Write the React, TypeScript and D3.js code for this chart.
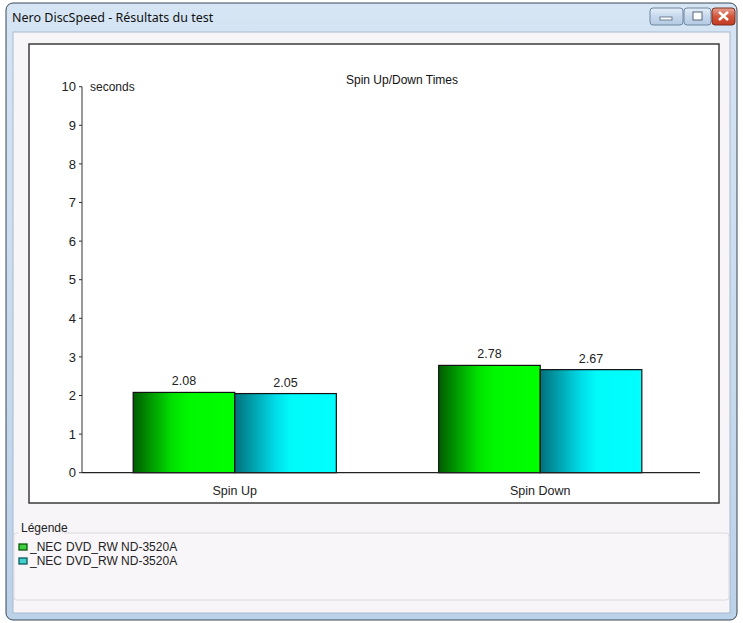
import { scaleBand, scaleLinear, range, format } from "d3";

// Spin up / spin down times, seconds
const categories = ["Spin Up", "Spin Down"];
const seriesNames = ["_NEC", "_NEC"];
const seriesModels = ["DVD_RW ND-3520A", "DVD_RW ND-3520A"];
const driveA = [2.08, 2.78];
const driveB = [2.05, 2.67];
const yTicks = range(0, 11);

const series = [driveA, driveB];
const seriesIds = ["gGreen", "gCyan"];
const legendFill = ["#3fcf3f", "#44d0d0"];
const legendStroke = ["#0a5a0a", "#0a5a5a"];

const W = 743;
const H = 623;
const ui = "'Liberation Sans', Arial, sans-serif";

export default function App() {
  const yScale = scaleLinear().domain([0, 10]).range([472.7, 86.7]);
  const xScale = scaleBand<string>()
    .domain(categories)
    .range([82, 693])
    .paddingInner(0.335)
    .paddingOuter(0.1675);
  const sub = scaleBand<number>()
    .domain(series.map((_, i) => i))
    .range([0, xScale.bandwidth()]);
  const fmt = format(".2f");

  return (
    <div style={{ position: "absolute", left: 0, top: 0, width: W, height: H, background: "#fff" }}>
      <svg width={W} height={H} style={{ display: "block" }}>
        <defs>
          <linearGradient id="gGreen" x1="0" x2="1" y1="0" y2="0">
            <stop offset="0%" stopColor="#005c00" />
            <stop offset="38%" stopColor="#00e000" />
            <stop offset="55%" stopColor="#00f800" />
            <stop offset="100%" stopColor="#00ff00" />
          </linearGradient>
          <linearGradient id="gCyan" x1="0" x2="1" y1="0" y2="0">
            <stop offset="0%" stopColor="#00707c" />
            <stop offset="40%" stopColor="#00dce8" />
            <stop offset="55%" stopColor="#00fafa" />
            <stop offset="100%" stopColor="#00ffff" />
          </linearGradient>
          <linearGradient id="gTitle" x1="0" x2="0" y1="0" y2="1">
            <stop offset="0%" stopColor="#d6e5f4" />
            <stop offset="100%" stopColor="#bcd2e9" />
          </linearGradient>
          <linearGradient id="gClose" x1="0" x2="0" y1="0" y2="1">
            <stop offset="0%" stopColor="#e8a090" />
            <stop offset="50%" stopColor="#d2553c" />
            <stop offset="100%" stopColor="#c23a22" />
          </linearGradient>
          <linearGradient id="gBtn" x1="0" x2="0" y1="0" y2="1">
            <stop offset="0%" stopColor="#e4eef8" />
            <stop offset="50%" stopColor="#c6d8ec" />
            <stop offset="100%" stopColor="#b4cbe3" />
          </linearGradient>
        </defs>

        {/* window frame */}
        <rect x={6} y={3} width={731} height={617} rx={7} fill="url(#gTitle)" stroke="#3a4654" strokeWidth={1} />
        <rect x={13} y={32} width={717} height={581} fill="#f7f5f8" stroke="#a6bacd" strokeWidth={1} />
        <text x={12} y={22} fontFamily="'Noto Sans', sans-serif" fontSize={12.5} fill="#111">
          Nero DiscSpeed - Résultats du test
        </text>

        {/* caption buttons */}
        <rect x={650} y={8} width={33} height={17} rx={3} fill="url(#gBtn)" stroke="#6f86a0" />
        <rect x={660} y={17} width={12} height={3} fill="#fff" stroke="#52657a" strokeWidth={0.8} />
        <rect x={684} y={8} width={27} height={17} rx={3} fill="url(#gBtn)" stroke="#6f86a0" />
        <rect x={693} y={12} width={9} height={8} fill="#fff" stroke="#52657a" strokeWidth={1} />
        <rect x={712} y={8} width={23} height={17} rx={3} fill="url(#gClose)" stroke="#7a3020" />
        <path d="M719,12 L728,20 M728,12 L719,20" stroke="#fff" strokeWidth={2.5} />

        {/* chart box */}
        <rect x={29} y={44} width={690} height={459} fill="#fff" stroke="#3c3c3c" strokeWidth={1.5} />

        <text x={402} y={84} textAnchor="middle" fontFamily={ui} fontSize={12} fill="#111">
          Spin Up/Down Times
        </text>

        {/* y axis */}
        <line x1={82} x2={82} y1={yScale(10)} y2={yScale(0)} stroke="#333" strokeWidth={1} />
        {yTicks.map((t) => (
          <g key={t} transform={`translate(0,${yScale(t)})`}>
            <line x1={79} x2={82} stroke="#333" />
            <text x={76} dy="0.36em" textAnchor="end" fontFamily={ui} fontSize={13} fill="#222">
              {t}
            </text>
          </g>
        ))}
        <text x={90} y={yScale(10)} dy="0.36em" fontFamily={ui} fontSize={12} fill="#222">
          seconds
        </text>

        {/* bars */}
        {categories.map((c, ci) => (
          <g key={c} transform={`translate(${xScale(c)},0)`}>
            {series.map((s, si) => (
              <g key={si}>
                <rect
                  x={sub(si)}
                  y={yScale(s[ci])}
                  width={sub.bandwidth()}
                  height={yScale(0) - yScale(s[ci])}
                  fill={`url(#${seriesIds[si]})`}
                  stroke="#111"
                  strokeWidth={1.2}
                />
                <text
                  x={(sub(si) ?? 0) + sub.bandwidth() / 2}
                  y={yScale(s[ci]) - 7}
                  textAnchor="middle"
                  fontFamily={ui}
                  fontSize={12.5}
                  fill="#222"
                >
                  {fmt(s[ci])}
                </text>
              </g>
            ))}
            <text
              x={xScale.bandwidth() / 2}
              y={yScale(0) + 22}
              textAnchor="middle"
              fontFamily={ui}
              fontSize={12.5}
              fill="#222"
            >
              {c}
            </text>
          </g>
        ))}

        {/* x axis */}
        <line x1={82} x2={700} y1={yScale(0)} y2={yScale(0)} stroke="#222" strokeWidth={1.2} />

        {/* legend */}
        <rect x={14} y={533} width={715} height={67} rx={3} fill="#f8f6f9" stroke="#dcdadd" />
        <rect x={18} y={522} width={46} height={13} fill="#f7f5f8" />
        <text x={21} y={532} fontFamily={ui} fontSize={12} fill="#222">
          Légende
        </text>
        {seriesNames.map((n, i) => {
          const y = 547 + i * 14;
          return (
            <g key={i}>
              <rect x={19} y={y - 3} width={8} height={6} fill={legendFill[i]} stroke={legendStroke[i]} strokeWidth={1.3} />
              <text x={30} y={y} dy="0.36em" fontFamily={ui} fontSize={12} fill="#222">
                {n}
              </text>
              <text x={66} y={y} dy="0.36em" fontFamily={ui} fontSize={12} fill="#222">
                {seriesModels[i]}
              </text>
            </g>
          );
        })}
      </svg>
    </div>
  );
}
